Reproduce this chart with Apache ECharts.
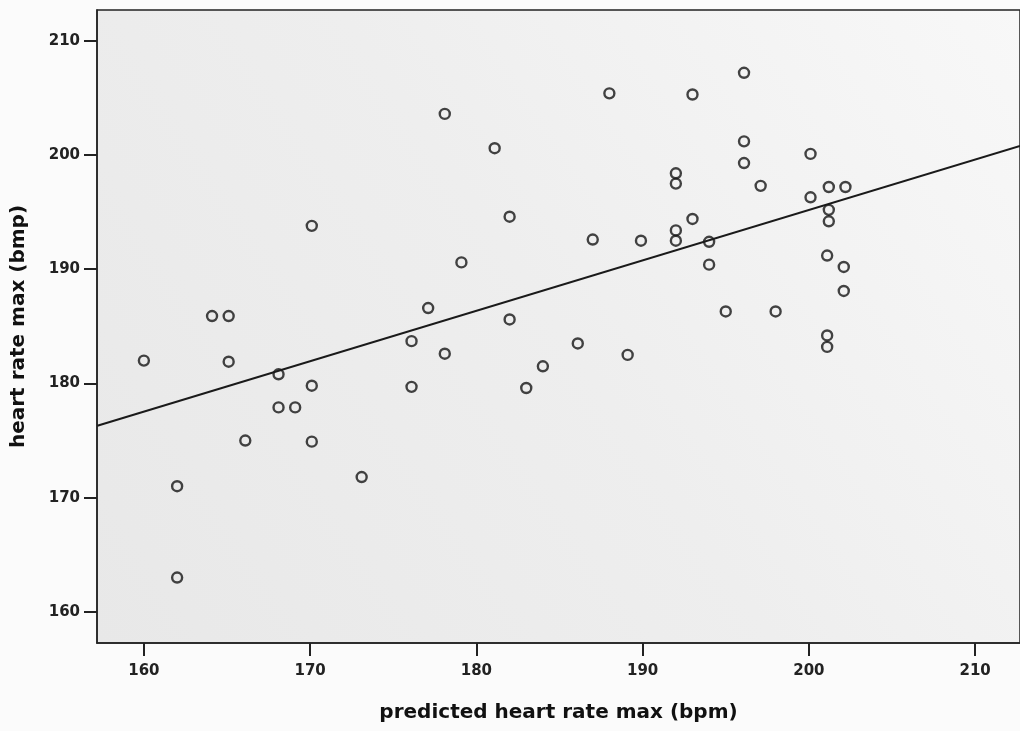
<!DOCTYPE html>
<html>
<head>
<meta charset="utf-8">
<script src="https://cdn.jsdelivr.net/npm/echarts@6/dist/echarts.min.js"></script>
<style>
  html, body { margin: 0; padding: 0; background: #fbfbfb; }
  #chart { width: 1020px; height: 731px; }
</style>
</head>
<body>
<div id="chart"></div>
<script>
// predicted heart rate max (bpm) vs measured heart rate max
var predicted = [160.0, 162.0, 162.0, 164.1, 165.1, 165.1, 166.1, 168.1, 168.1, 169.1,
    170.1, 170.1, 170.1, 173.1, 176.1, 176.1, 177.1, 178.1, 178.1, 179.1,
    181.1, 182.0, 182.0, 183.0, 184.0, 186.1, 187.0, 188.0, 189.1, 189.9,
    192.0, 192.0, 192.0, 192.0, 193.0, 193.0, 194.0, 194.0, 195.0, 196.1,
    196.1, 196.1, 197.1, 198.0, 200.1, 200.1, 201.2, 201.2, 201.2, 201.1,
    201.1, 201.1, 202.2, 202.1, 202.1];
var measured = [182.0, 171.0, 163.0, 185.9, 185.9, 181.9, 175.0, 180.8, 177.9, 177.9,
    193.8, 179.8, 174.9, 171.8, 183.7, 179.7, 186.6, 203.6, 182.6, 190.6,
    200.6, 194.6, 185.6, 179.6, 181.5, 183.5, 192.6, 205.4, 182.5, 192.5,
    198.4, 197.5, 193.4, 192.5, 205.3, 194.4, 192.4, 190.4, 186.3, 207.2,
    201.2, 199.3, 197.3, 186.3, 200.1, 196.3, 197.2, 195.2, 194.2, 191.2,
    184.2, 183.2, 197.2, 190.2, 188.1];

// fit line end points, read at the plot edges
var fitStart = [157.2, 176.3];
var fitEnd = [212.7, 200.8];

var xTicks = [160, 170, 180, 190, 200, 210];
var yTicks = [160, 170, 180, 190, 200, 210];

var chart = echarts.init(document.getElementById('chart'));

var labelStyle = {
    color: '#222',
    fontFamily: 'DejaVu Sans',
    fontWeight: 'bold',
    fontSize: 15
};

var option = {
    backgroundColor: '#fbfbfb',
    animation: false,
    grid: {
        left: 97,
        right: -2,
        top: 10,
        bottom: 88,
        show: true,
        borderColor: '#222',
        borderWidth: 1.5,
        backgroundColor: new echarts.graphic.LinearGradient(0, 1, 1, 0, [
            { offset: 0, color: '#e8e8e8' },
            { offset: 0.5, color: '#eeeeee' },
            { offset: 1, color: '#f8f8f8' }
        ])
    },
    xAxis: {
        type: 'value',
        min: 157.18,
        max: 212.7,
        name: 'predicted heart rate max (bpm)',
        nameLocation: 'middle',
        nameGap: 60,
        nameTextStyle: {
            color: '#111',
            fontFamily: 'DejaVu Sans',
            fontWeight: 'bold',
            fontSize: 20
        },
        axisLine: { onZero: false, lineStyle: { color: '#222', width: 1.5 } },
        axisTick: {
            customValues: xTicks,
            length: 13,
            lineStyle: { color: '#222', width: 2 }
        },
        axisLabel: Object.assign({ customValues: xTicks, margin: 21 }, labelStyle),
        splitLine: { show: false }
    },
    yAxis: {
        type: 'value',
        min: 157.27,
        max: 212.7,
        name: 'heart rate max (bmp)',
        nameLocation: 'middle',
        nameGap: 68,
        nameTextStyle: {
            color: '#111',
            fontFamily: 'DejaVu Sans',
            fontWeight: 'bold',
            fontSize: 20
        },
        axisLine: { onZero: false, lineStyle: { color: '#222', width: 1.5 } },
        axisTick: {
            customValues: yTicks,
            length: 13,
            lineStyle: { color: '#222', width: 2 }
        },
        axisLabel: Object.assign({ customValues: yTicks, margin: 17 }, labelStyle),
        splitLine: { show: false }
    },
    series: [
        {
            type: 'line',
            data: [fitStart, fitEnd],
            symbol: 'none',
            silent: true,
            lineStyle: { color: '#1a1a1a', width: 2 }
        },
        {
            type: 'scatter',
            symbol: 'circle',
            symbolSize: 10,
            data: predicted.map(function (x, i) {
                return [x, measured[i]];
            }),
            itemStyle: {
                color: 'rgba(0,0,0,0)',
                borderColor: '#151515',
                borderWidth: 2.4
            }
        }
    ]
};

chart.setOption(option);
</script>
</body>
</html>
